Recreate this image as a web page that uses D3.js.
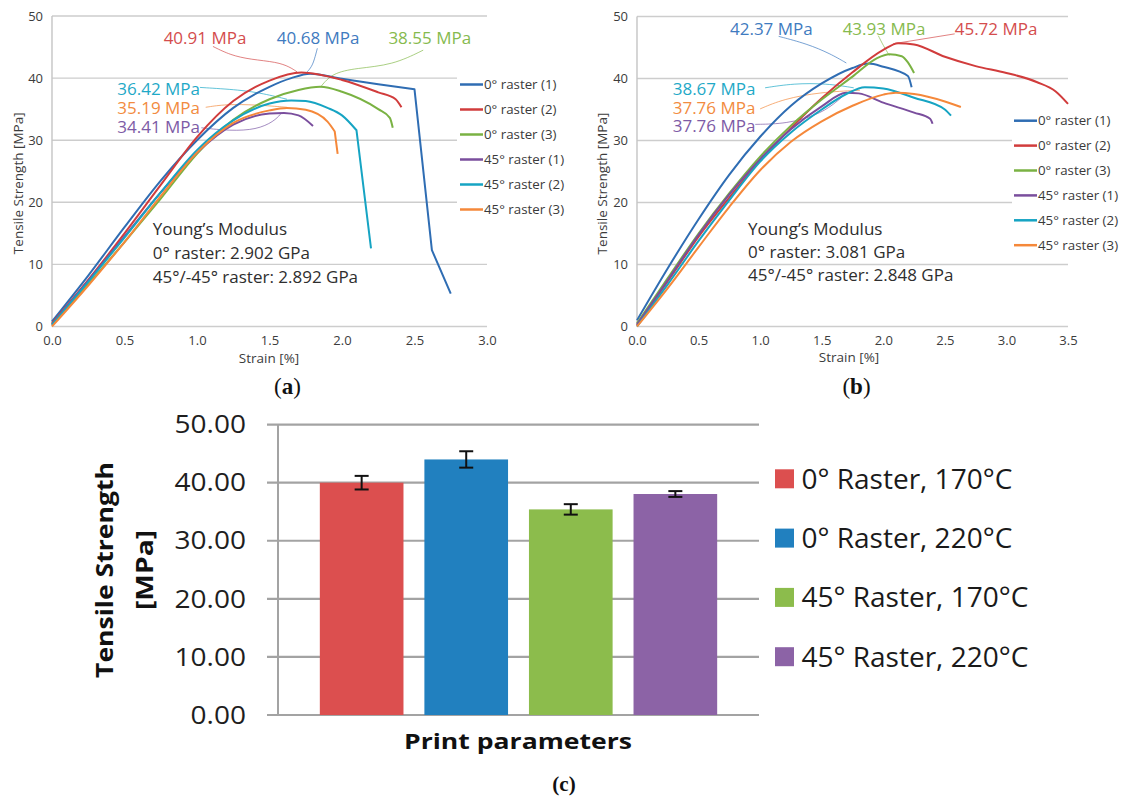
<!DOCTYPE html>
<html><head><meta charset="utf-8">
<script src="https://cdn.jsdelivr.net/npm/d3@7"></script>
<style>body{margin:0;background:#fff} svg{display:block}</style>
</head><body><svg id="c" width="1121" height="798"></svg>
<script>
// ---------- DATA ----------
const seriesNames = ["0° raster (1)","0° raster (2)","0° raster (3)","45° raster (1)","45° raster (2)","45° raster (3)"];
// Panel (a): strain [%], stress [MPa]
const a_0r1 = [[0,0.8],[0.25,8.2],[0.5,16.0],[0.75,23.5],[1.0,30.0],[1.25,35.2],[1.5,38.6],[1.65,40.0],[1.78,40.7],[2.0,39.9],[2.25,39.0],[2.5,38.2],[2.62,12.3],[2.75,5.3]];
const a_0r2 = [[0,0.5],[0.25,7.5],[0.5,15.0],[0.75,22.8],[1.0,30.5],[1.25,36.3],[1.5,39.6],[1.72,40.9],[2.0,39.7],[2.25,37.7],[2.37,36.6],[2.41,35.3]];
const a_0r3 = [[0,0.3],[0.25,6.8],[0.5,13.6],[0.75,20.6],[1.0,27.8],[1.25,33.3],[1.5,36.6],[1.7,38.1],[1.85,38.6],[2.0,37.8],[2.25,35.0],[2.33,33.6],[2.35,32.0]];
const a_45r1 = [[0,0.3],[0.25,7.4],[0.5,14.5],[0.75,21.6],[1.0,28.0],[1.25,32.5],[1.5,34.3],[1.6,34.4],[1.7,34.0],[1.8,32.3]];
const a_45r2 = [[0,0.3],[0.25,7.2],[0.5,14.3],[0.75,21.6],[1.0,28.4],[1.25,33.2],[1.5,35.9],[1.65,36.4],[1.75,36.3],[1.9,35.2],[2.0,34.0],[2.1,31.6],[2.2,12.6]];
const a_45r3 = [[0,0],[0.25,6.6],[0.5,13.6],[0.75,21.0],[1.0,28.0],[1.25,32.8],[1.5,34.8],[1.62,35.2],[1.75,34.9],[1.9,33.0],[1.95,31.4],[1.97,27.8]];
// Panel (b)
const b_0r1 = [[0,1.0],[0.25,9.4],[0.5,17.3],[0.75,24.5],[1.0,30.6],[1.25,35.6],[1.5,39.2],[1.75,41.7],[1.88,42.4],[2.0,41.9],[2.2,40.4],[2.23,38.6]];
const b_0r2 = [[0,0.2],[0.25,7.3],[0.5,14.5],[0.75,20.8],[1.0,26.8],[1.25,32.0],[1.5,36.8],[1.75,41.0],[2.0,44.6],[2.12,45.7],[2.25,45.5],[2.5,43.5],[2.75,42.0],[3.0,40.9],[3.25,39.4],[3.4,37.9],[3.5,35.9]];
const b_0r3 = [[0,0.5],[0.25,7.8],[0.5,15.0],[0.75,21.5],[1.0,27.4],[1.25,32.4],[1.5,36.6],[1.75,40.3],[1.95,43.3],[2.05,43.9],[2.15,43.6],[2.2,42.6],[2.25,40.9]];
const b_45r1 = [[0,0.3],[0.25,7.5],[0.5,14.8],[0.75,21.3],[1.0,27.0],[1.25,31.8],[1.5,35.5],[1.7,37.7],[1.8,37.6],[2.0,36.1],[2.25,34.5],[2.38,33.5],[2.4,32.7]];
const b_45r2 = [[0,0],[0.25,6.8],[0.5,13.8],[0.75,20.4],[1.0,26.6],[1.25,31.3],[1.5,35.0],[1.7,37.5],[1.85,38.6],[2.0,38.4],[2.25,36.9],[2.5,35.0],[2.55,34.0]];
const b_45r3 = [[0,0],[0.25,6.2],[0.5,12.8],[0.75,19.3],[1.0,25.2],[1.25,29.8],[1.5,33.1],[1.75,35.6],[2.0,37.4],[2.1,37.7],[2.25,37.5],[2.5,36.3],[2.63,35.4]];
// Peak annotations (text, series index)
const a_peakLabels = ["40.91 MPa","40.68 MPa","38.55 MPa","36.42 MPa","35.19 MPa","34.41 MPa"];
const a_peakSeries = [1,0,2,4,5,3];
const b_peakLabels = ["42.37 MPa","43.93 MPa","45.72 MPa","38.67 MPa","37.76 MPa","37.76 MPa"];
const b_peakSeries = [0,2,1,4,5,3];
const a_youngs = ["Young’s Modulus","0° raster: 2.902 GPa","45°/-45° raster: 2.892 GPa"];
const b_youngs = ["Young’s Modulus","0° raster: 3.081 GPa","45°/-45° raster: 2.848 GPa"];
const yTicksAB = [0,10,20,30,40,50];
const xTicksA = [0,0.5,1.0,1.5,2.0,2.5,3.0];
const xTicksB = [0,0.5,1.0,1.5,2.0,2.5,3.0,3.5];
// Panel (c)
const barCategories = ["0° Raster, 170°C","0° Raster, 220°C","45° Raster, 170°C","45° Raster, 220°C"];
const barValues = [40.0, 44.0, 35.4, 38.05];
const barErrors = [1.17, 1.41, 0.9, 0.5];
const yTicksC = [0,10,20,30,40,50];

// ---------- STYLE ----------
const lineColors = ["#2f6db3","#d13c3c","#7ab243","#7a4e9d","#16a4c3","#f5883a"];
const labelColors = ["#3f7bc0","#d44d4d","#86ba4e","#7d5ba6","#1fa9c7","#f28b40"];
const barColors = ["#dc4f4f","#2180bf","#8cbc4c","#8c63a6"];
const svg = d3.select("#c");
const FONT = "'Open Sans', 'Noto Sans', sans-serif";

function curvePath(pts, x, y){
  let k = pts.length-1;
  for (let i=1;i<pts.length;i++){
    const s=(pts[i][1]-pts[i-1][1])/(pts[i][0]-pts[i-1][0]);
    if (s < -90){ k=i-1; break; }
  }
  const smooth = d3.line().x(d=>x(d[0])).y(d=>y(d[1])).curve(d3.curveMonotoneX)(pts.slice(0,k+1));
  return smooth + pts.slice(k+1).map(p=>`L${x(p[0])},${y(p[1])}`).join("");
}

function panel(opts){
  const {x, y, series, xTicks, gridEnds, legendRows, legendX, labels, labelSeries, leaders, youngs, youngsPos, yTitleX, xTitlePos, tag} = opts;
  const g = svg.append("g");
  yTicksAB.forEach((t,i)=>{
    g.append("line").attr("x1",x.range()[0]).attr("x2",gridEnds[i])
      .attr("y1",y(t)).attr("y2",y(t)).attr("stroke","#cdcdcd").attr("stroke-width",1.4);
  });
  g.append("line").attr("x1",x.range()[0]).attr("x2",x.range()[0]).attr("y1",y(0)).attr("y2",y(50))
    .attr("stroke","#c4c4c4").attr("stroke-width",1.4);
  const ya = g.append("g").attr("transform",`translate(${x.range()[0]},0)`)
    .call(d3.axisLeft(y).tickValues(yTicksAB).tickSize(0).tickPadding(9).tickFormat(d3.format("d")));
  const xa = g.append("g").attr("transform",`translate(0,${y(0)})`)
    .call(d3.axisBottom(x).tickValues(xTicks).tickSize(0).tickPadding(9).tickFormat(d3.format(".1f")));
  [ya,xa].forEach(a=>{a.select(".domain").remove();
    a.selectAll("text").attr("font-family",FONT).attr("font-size",13).attr("fill","#3c3c3c");});
  g.append("text").attr("transform",`translate(${yTitleX},${(y(0)+y(50))/2+12}) rotate(-90)`)
    .attr("text-anchor","middle").attr("font-family",FONT).attr("font-size",13.5).attr("fill","#3c3c3c")
    .text("Tensile Strength [MPa]");
  g.append("text").attr("x",xTitlePos[0]).attr("y",xTitlePos[1]).attr("text-anchor","middle")
    .attr("font-family",FONT).attr("font-size",13.5).attr("fill","#3c3c3c").text("Strain [%]");
  const ll = d3.line().x(d=>x(d[0])).y(d=>y(d[1])).curve(d3.curveBasis);
  leaders.forEach((pts,i)=>{
    g.append("path").attr("d",ll(pts)).attr("fill","none").attr("stroke",labelColors[labelSeries[i]])
      .attr("stroke-width",1).attr("stroke-opacity",0.7);
  });
  series.forEach((s,i)=>{
    g.append("path").attr("d",curvePath(s,x,y)).attr("fill","none").attr("stroke",lineColors[i])
      .attr("stroke-width",2).attr("stroke-linejoin","round");
  });
  labels.forEach((l,i)=>{
    g.append("text").attr("x",x(l.pos[0])).attr("y",y(l.pos[1])).attr("font-family",FONT)
      .attr("font-size",17).attr("fill",labelColors[labelSeries[i]]).text(l.text);
  });
  youngs.forEach((t,i)=>{
    g.append("text").attr("x",x(youngsPos[0])).attr("y",y(youngsPos[1])+i*youngsPos[2])
      .attr("font-family",FONT).attr("font-size",17).attr("fill","#2e2e2e").text(t);
  });
  seriesNames.forEach((n,i)=>{
    const ly = legendRows[0]+i*legendRows[1];
    g.append("line").attr("x1",legendX).attr("x2",legendX+23).attr("y1",ly).attr("y2",ly)
      .attr("stroke",lineColors[i]).attr("stroke-width",2.5);
    g.append("text").attr("x",legendX+24).attr("y",ly).attr("dy","0.35em").attr("font-family",FONT)
      .attr("font-size",13.3).attr("fill","#3a3a3a").text(n);
  });
  const tg = svg.append("text").attr("x",tag[0]).attr("y",tag[1]).attr("text-anchor","middle")
    .attr("font-family","'Liberation Serif', serif").attr("font-size",23).attr("fill","#111");
  tg.append("tspan").text("(");
  tg.append("tspan").attr("font-weight","bold").text(tag[2]);
  tg.append("tspan").text(")");
}

const xA = d3.scaleLinear([0,3],[52,487]);
const yA = d3.scaleLinear([0,50],[326.5,16]);
panel({x:xA, y:yA, series:[a_0r1,a_0r2,a_0r3,a_45r1,a_45r2,a_45r3], xTicks:xTicksA,
  gridEnds:[487,487,457,457,457,487], legendRows:[84.5,25], legendX:460,
  labels:[{text:a_peakLabels[0],pos:[0.77,45.5]},{text:a_peakLabels[1],pos:[1.55,45.5]},{text:a_peakLabels[2],pos:[2.32,45.5]},
          {text:a_peakLabels[3],pos:[0.45,37.2]},{text:a_peakLabels[4],pos:[0.45,34.2]},{text:a_peakLabels[5],pos:[0.45,31.2]}],
  labelSeries:a_peakSeries,
  leaders:[
    [[1.11,45.1],[1.23,43.7],[1.37,43.0],[1.55,42.6],[1.64,41.8],[1.69,41.0]],
    [[1.83,44.8],[1.81,43.0],[1.79,41.8],[1.76,41.0]],
    [[2.56,44.5],[2.35,42.1],[2.10,41.6],[1.93,40.8],[1.85,38.5]],
    [[1.02,38.5],[1.30,38.1],[1.46,37.5],[1.62,36.6]],
    [[1.06,35.3],[1.20,35.8],[1.41,35.7],[1.62,35.3]],
    [[1.03,32.0],[1.23,31.5],[1.41,31.7],[1.53,33.0],[1.58,34.3]]],
  youngs:a_youngs, youngsPos:[0.695,14.7,24], yTitleX:23, xTitlePos:[269,363], tag:[287.5,394,"a"]});

const xB = d3.scaleLinear([0,3.5],[637,1068]);
const yB = d3.scaleLinear([0,50],[326.5,16.5]);
panel({x:xB, y:yB, series:[b_0r1,b_0r2,b_0r3,b_45r1,b_45r2,b_45r3], xTicks:xTicksB,
  gridEnds:[1068,1068,1012,1012,1068,1068], legendRows:[120.7,24.9], legendX:1014,
  labels:[{text:b_peakLabels[0],pos:[0.755,47.05]},{text:b_peakLabels[1],pos:[1.67,47.05]},{text:b_peakLabels[2],pos:[2.58,47.05]},
          {text:b_peakLabels[3],pos:[0.29,37.3]},{text:b_peakLabels[4],pos:[0.29,34.3]},{text:b_peakLabels[5],pos:[0.29,31.3]}],
  labelSeries:b_peakSeries,
  leaders:[
    [[1.15,46.8],[1.38,45.6],[1.57,44.0],[1.70,42.5]],
    [[1.96,46.9],[2.0,45.3],[2.05,43.7]],
    [[2.58,47.2],[2.08,45.6]],
    [[1.04,38.5],[1.27,39.2],[1.54,39.2],[1.76,38.5]],
    [[1.0,35.1],[1.19,36.7],[1.49,37.8],[1.81,38.1]],
    [[0.96,32.6],[1.22,32.7],[1.46,34.1],[1.59,35.7],[1.68,37.3]]],
  youngs:b_youngs, youngsPos:[0.902,14.8,23], yTitleX:607, xTitlePos:[849,362], tag:[856.5,394,"b"]});

// Panel (c)
const xC = d3.scaleBand(barCategories,[278,759]).paddingInner(0.2).paddingOuter(0.4);
const yC = d3.scaleLinear([0,50],[715,424.6]);
const gc = svg.append("g");
yTicksC.forEach(t=>{
  gc.append("line").attr("x1",267).attr("x2",759).attr("y1",yC(t)).attr("y2",yC(t))
    .attr("stroke","#a3a3a3").attr("stroke-width",2.2);
});
gc.append("line").attr("x1",278).attr("x2",278).attr("y1",yC(0)).attr("y2",yC(50))
  .attr("stroke","#a3a3a3").attr("stroke-width",2);
const yac = gc.append("g").attr("transform","translate(278,0)")
  .call(d3.axisLeft(yC).tickValues(yTicksC).tickSize(0).tickPadding(32).tickFormat(d3.format(".2f")));
yac.select(".domain").remove();
yac.selectAll("text").attr("font-family",FONT).attr("font-size",25.5).attr("fill","#1e1e1e")
  .each(function(){ const w=this.getComputedTextLength();
    d3.select(this).attr("textLength",w*1.1).attr("lengthAdjust","spacingAndGlyphs"); });
gc.selectAll("rect.bar").data(barValues).join("rect").attr("class","bar")
  .attr("x",(d,i)=>xC(barCategories[i])).attr("width",xC.bandwidth())
  .attr("y",d=>yC(d)).attr("height",d=>yC(0)-yC(d)).attr("fill",(d,i)=>barColors[i]);
barValues.forEach((v,i)=>{
  const cx = xC(barCategories[i])+xC.bandwidth()/2, e = barErrors[i];
  gc.append("line").attr("x1",cx).attr("x2",cx).attr("y1",yC(v-e)).attr("y2",yC(v+e)).attr("stroke","#111").attr("stroke-width",2);
  [v-e,v+e].forEach(q=>gc.append("line").attr("x1",cx-7).attr("x2",cx+7).attr("y1",yC(q)).attr("y2",yC(q))
    .attr("stroke","#111").attr("stroke-width",2));
});
barCategories.forEach((c,i)=>{
  const ly = 478.8 + i*59.3;
  gc.append("rect").attr("x",775).attr("y",ly-9.5).attr("width",19).attr("height",19).attr("fill",barColors[i]);
  gc.append("text").attr("x",801.5).attr("y",ly).attr("dy","0.36em").attr("font-family",FONT)
    .attr("font-size",28).attr("fill","#1a1a1a").text(c);
});
gc.append("text").attr("x",518).attr("y",748.5).attr("text-anchor","middle").attr("font-family",FONT)
  .attr("font-weight","bold").attr("font-size",21).attr("fill","#111")
  .attr("textLength",228).attr("lengthAdjust","spacingAndGlyphs").text("Print parameters");
gc.append("text").attr("transform","translate(112.5,570) rotate(-90)").attr("text-anchor","middle")
  .attr("font-family",FONT).attr("font-weight","bold").attr("font-size",23).attr("fill","#111")
  .attr("textLength",216).attr("lengthAdjust","spacingAndGlyphs").text("Tensile Strength");
gc.append("text").attr("transform","translate(152.5,570) rotate(-90)").attr("text-anchor","middle")
  .attr("font-family",FONT).attr("font-weight","bold").attr("font-size",23).attr("fill","#111")
  .attr("textLength",80).attr("lengthAdjust","spacingAndGlyphs").text("[MPa]");
svg.append("text").attr("x",564).attr("y",791).attr("text-anchor","middle")
  .attr("font-family","'Liberation Serif', serif").attr("font-size",21).attr("font-weight","bold").attr("fill","#111")
  .text("(c)");
</script></body></html>
